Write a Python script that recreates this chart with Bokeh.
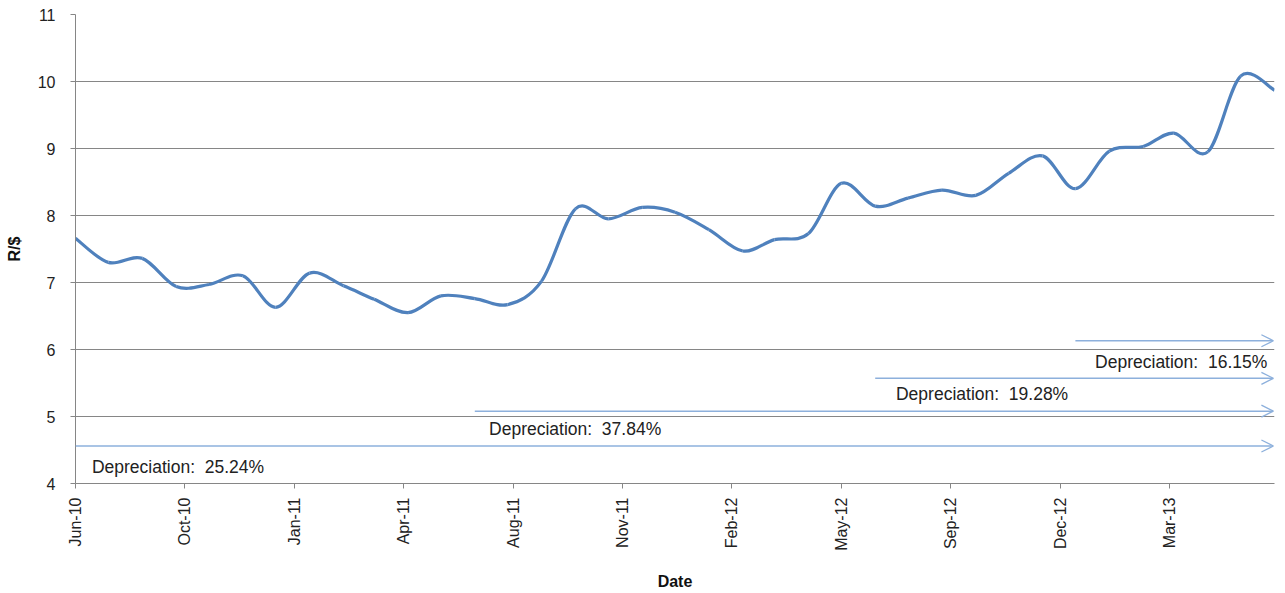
import numpy as np
import pandas as pd
from bokeh.plotting import figure
from bokeh.models import FixedTicker, Arrow, OpenHead, ColumnDataSource, Range1d
from bokeh.core.properties import value
from bokeh.embed import file_html
from bokeh.resources import INLINE

# ---- data ----
start_month = "2010-06-01"
rate = [7.66, 7.30, 7.36, 6.94, 6.97, 7.10, 6.63, 7.14, 6.95, 6.75,
        6.55, 6.80, 6.76, 6.67, 7.02, 8.10, 7.95, 8.12, 8.05, 7.79,
        7.47, 7.64, 7.73, 8.48, 8.14, 8.26, 8.38, 8.30, 8.63, 8.89,
        8.40, 8.96, 9.03, 9.23, 8.95, 10.08, 9.87]
tick_days = [0, 100, 200, 300, 400, 500, 600, 700, 800, 900, 1000]
tick_labels = ["Jun-10", "Oct-10", "Jan-11", "Apr-11", "Aug-11", "Nov-11",
               "Feb-12", "May-12", "Sep-12", "Dec-12", "Mar-13"]
arrow_start = ["2010-06-01", "2011-06-01", "2012-06-01", "2012-12-01"]
arrow_level = [4.56, 5.08, 5.57, 6.13]
dep_labels = ["Depreciation:\u00a0 25.24%", "Depreciation:\u00a0 37.84%",
              "Depreciation:\u00a0 19.28%", "Depreciation:\u00a0 16.15%"]
label_day = [15, 378, 750, 932]
label_level = [4.25, 4.82, 5.34, 5.81]

dates = pd.date_range(start_month, periods=len(rate), freq="MS")
t0 = dates[0]
xd = np.array([(d - t0).days for d in dates], dtype=float)
yv = np.array(rate)

# smooth curve as cubic bezier segments (Catmull-Rom style control points)
P = np.column_stack([xd, yv])
Pext = np.vstack([P[0], P, P[-1]])
x0s, y0s, x1s, y1s, cx0, cy0, cx1, cy1 = [], [], [], [], [], [], [], []
for i in range(len(P) - 1):
    p0, p1, p2, p3 = Pext[i], Pext[i + 1], Pext[i + 2], Pext[i + 3]
    c1 = p1 + (p2 - p0) / 6.0
    c2 = p2 - (p3 - p1) / 6.0
    x0s.append(p1[0]); y0s.append(p1[1]); x1s.append(p2[0]); y1s.append(p2[1])
    cx0.append(c1[0]); cy0.append(c1[1]); cx1.append(c2[0]); cy1.append(c2[1])
bez = ColumnDataSource(dict(x0=x0s, y0=y0s, x1=x1s, y1=y1s,
                            cx0=cx0, cy0=cy0, cx1=cx1, cy1=cy1))

p = figure(width=1283, height=592, output_backend="svg", toolbar_location=None,
           x_range=Range1d(0, xd[-1]), y_range=Range1d(4, 11),
           min_border_left=75, min_border_right=9, min_border_top=14,
           min_border_bottom=106)
p.outline_line_color = None
p.background_fill_color = "white"
p.border_fill_color = "white"

p.xgrid.grid_line_color = None
p.ygrid.grid_line_color = "#868686"
p.ygrid.grid_line_width = 1

p.xaxis.ticker = FixedTicker(ticks=tick_days)
p.xaxis.major_label_overrides = {d: l for d, l in zip(tick_days, tick_labels)}
p.xaxis.major_label_orientation = np.pi / 2
p.xaxis.minor_tick_line_color = None
p.yaxis.minor_tick_line_color = None
p.yaxis.ticker = FixedTicker(ticks=list(range(4, 12)))
for ax in (p.xaxis, p.yaxis):
    ax.axis_line_color = "#868686"
    ax.major_tick_line_color = "#868686"
    ax.major_tick_out = 5
    ax.major_tick_in = 0
    ax.major_label_text_font = "Liberation Sans"
    ax.major_label_text_color = "#222222"
    ax.axis_label_text_font = "Liberation Sans"
    ax.axis_label_text_font_style = "bold"
    ax.axis_label_text_font_size = "16px"
    ax.axis_label_text_color = "#111111"
p.xaxis.major_label_text_font_size = "16px"
p.yaxis.major_label_text_font_size = "16px"
p.xaxis.major_label_standoff = 9
p.yaxis.major_label_standoff = 15
p.xaxis.axis_label = "Date"
p.yaxis.axis_label = "R/$"
p.xaxis.axis_label_standoff = 19
p.yaxis.axis_label_standoff = 12

p.bezier(x0="x0", y0="y0", x1="x1", y1="y1", cx0="cx0", cy0="cy0",
         cx1="cx1", cy1="cy1", source=bez, line_color="#4F81BD", line_width=3.2)

arrow_color = "#8DB0DC"
for s, lv in zip(arrow_start, arrow_level):
    xs = float((pd.Timestamp(s) - t0).days)
    p.add_layout(Arrow(end=OpenHead(size=12, line_color=arrow_color, line_width=1.3),
                       x_start=xs, y_start=lv, x_end=xd[-1] - 1, y_end=lv,
                       line_color=arrow_color, line_width=1.5))

p.text(x=label_day, y=label_level, text=dep_labels,
       text_font=value("Liberation Sans"),
       text_font_size="17.5px", text_color="#222222", text_baseline="middle",
       text_align="left")

open("out.html", "w").write(file_html(p, INLINE))
